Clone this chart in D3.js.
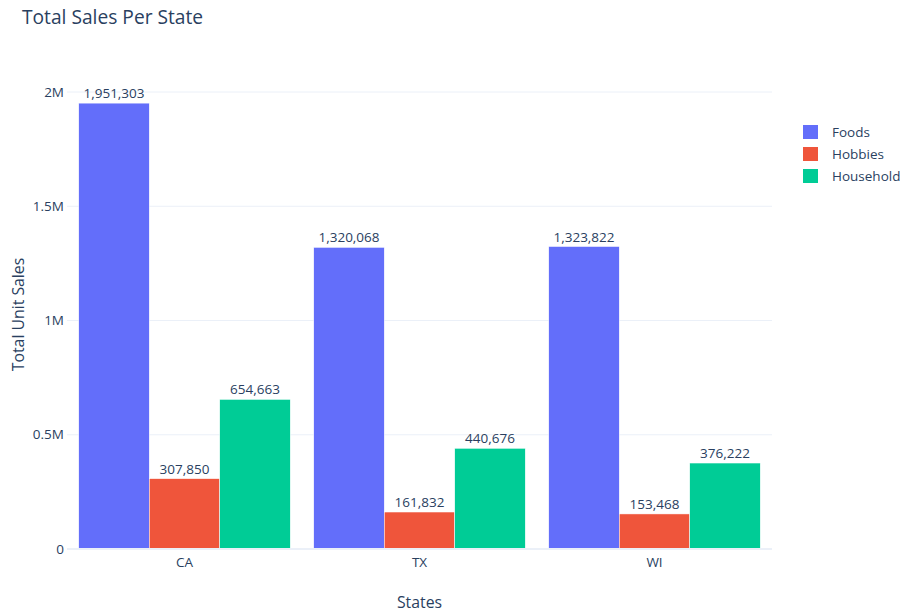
<!DOCTYPE html>
<html><head><meta charset="utf-8">
<script src="https://cdn.jsdelivr.net/npm/d3@7"></script>
<style>body{margin:0;background:#fff}svg{font-family:"Open Sans",sans-serif}</style>
</head><body><svg id="c" width="903" height="614"></svg>
<script>
const states = ["CA","TX","WI"];
const seriesNames = ["Foods","Hobbies","Household"];
const foods = [1951303,1320068,1323822];
const hobbies = [307850,161832,153468];
const household = [654663,440676,376222];
const colors = ["#636efa","#ef553b","#00cc96"];
const yTicks = [0,500000,1000000,1500000,2000000];
const yTickLabels = ["0","0.5M","1M","1.5M","2M"];

const svg = d3.select("#c");
const L=67,R=772,T=80,B=549;
const x = d3.scaleBand().domain(states).range([L,R]).paddingInner(0).paddingOuter(0);
const y = d3.scaleLinear().domain([0,2000000]).range([B,92]);
const inner = d3.scaleBand().domain(seriesNames).range([0,x.bandwidth()*0.9]);
const txt="#2a3f5f";
const fs=13.5;

// grid
svg.append("g").selectAll("line").data(yTicks.filter(d=>d>0)).join("line")
 .attr("x1",L).attr("x2",R).attr("y1",d=>y(d)).attr("y2",d=>y(d))
 .attr("stroke","#ebf0f8").attr("stroke-width",1);
// y tick labels
svg.append("g").selectAll("text").data(yTicks).join("text")
 .attr("x",L-3).attr("y",d=>y(d)).attr("dy","0.35em").attr("text-anchor","end")
 .attr("fill",txt).attr("font-size",fs).text((d,i)=>yTickLabels[i]);

const data = [foods,hobbies,household];
const off = x.bandwidth()*0.05;
seriesNames.forEach((s,si)=>{
  const g = svg.append("g");
  g.selectAll("rect").data(states).join("rect")
   .attr("x",d=>x(d)+off+inner(s)).attr("width",inner.bandwidth())
   .attr("y",(d,i)=>y(data[si][i])).attr("height",(d,i)=>B-y(data[si][i]))
   .attr("fill",colors[si]).attr("stroke","#fff").attr("stroke-width",0.5);
  g.selectAll("text").data(states).join("text")
   .attr("x",d=>x(d)+off+inner(s)+inner.bandwidth()/2)
   .attr("y",(d,i)=>y(data[si][i])-5).attr("text-anchor","middle")
   .attr("fill",txt).attr("font-size",fs).text((d,i)=>d3.format(",")(data[si][i]));
});
// zero line
svg.append("line").attr("x1",L).attr("x2",R).attr("y1",B).attr("y2",B)
 .attr("stroke","#ebf0f8").attr("stroke-width",2);
// x tick labels
svg.append("g").selectAll("text").data(states).join("text")
 .attr("x",d=>x(d)+x.bandwidth()/2).attr("y",B+18).attr("text-anchor","middle")
 .attr("fill",txt).attr("font-size",fs).text(d=>d);
// axis titles
svg.append("text").attr("x",(L+R)/2).attr("y",608).attr("text-anchor","middle")
 .attr("fill",txt).attr("font-size",15.8).text("States");
svg.append("text").attr("transform",`translate(24,${(T+B)/2}) rotate(-90)`).attr("text-anchor","middle")
 .attr("fill",txt).attr("font-size",15.8).text("Total Unit Sales");
// title
svg.append("text").attr("x",22).attr("y",24).attr("fill",txt).attr("font-size",19.2).text("Total Sales Per State");
// legend
const lg = svg.append("g").selectAll("g").data(seriesNames).join("g")
 .attr("transform",(d,i)=>`translate(803,${132+i*22})`);
lg.append("rect").attr("x",0).attr("y",-7).attr("width",15).attr("height",14).attr("fill",(d,i)=>colors[i]);
lg.append("text").attr("x",29).attr("y",0).attr("dy","0.35em").attr("fill",txt).attr("font-size",fs).text(d=>d);
</script></body></html>
